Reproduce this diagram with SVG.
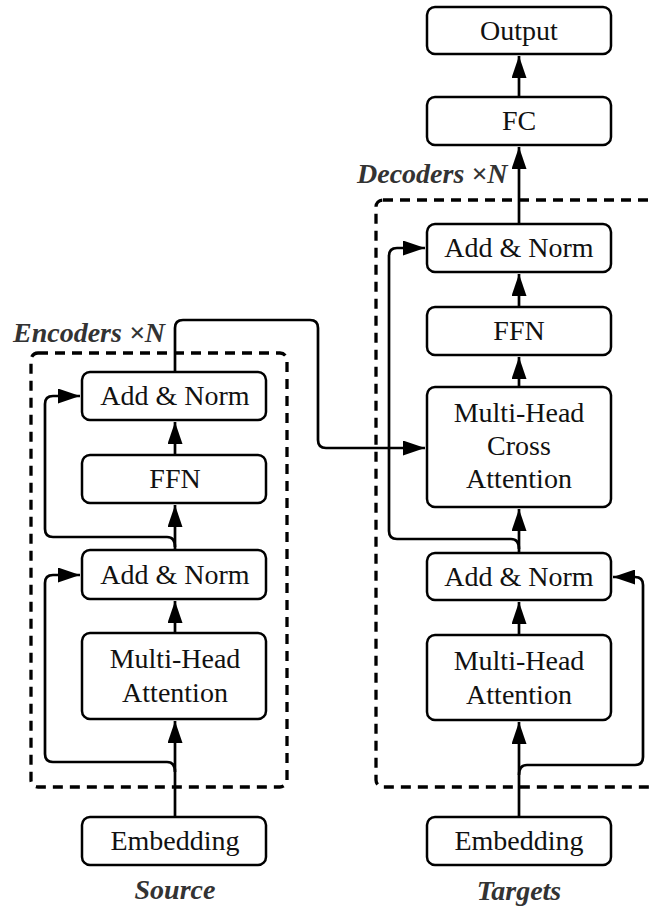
<svg xmlns="http://www.w3.org/2000/svg" width="651" height="907" viewBox="0 0 651 907">
  <style>
    .box { fill: #fff; stroke: #000; stroke-width: 2.5; }
    .lbl { font-family: "Liberation Serif", "Times New Roman", serif; font-size: 28px; fill: #111; text-anchor: middle; }
    .cap { font-family: "Liberation Serif", "Times New Roman", serif; font-size: 28px; font-weight: bold; font-style: italic; fill: #333; }
    .edge { fill: none; stroke: #000; stroke-width: 2.7; stroke-linejoin: round; }
    .frame { fill: none; stroke: #000; stroke-width: 3.3; stroke-dasharray: 10 7; }
  </style>
  <defs>
    <marker id="arrow" markerUnits="userSpaceOnUse" markerWidth="22" markerHeight="15" refX="22" refY="7.5" orient="auto">
      <path d="M0,0 L22,7.5 L0,15 z" fill="#000"/>
    </marker>
  </defs>
  <rect width="651" height="907" fill="#fff"/>

  <!-- stack frames -->
  <g id="encoder-frame">
    <rect class="frame" x="31" y="353" width="256" height="434" rx="7"/>
    <text class="cap" x="13" y="342">Encoders ×N</text>
  </g>
  <g id="decoder-frame">
    <rect class="frame" x="376" y="200" width="300" height="587" rx="7"/>
    <text class="cap" x="357" y="183">Decoders ×N</text>
  </g>

  <!-- connectors -->
  <g id="connectors">
    <!-- encoder main path -->
    <path class="edge" d="M175,817 L175,721" marker-end="url(#arrow)"/>
    <path class="edge" d="M175,633 L175,601" marker-end="url(#arrow)"/>
    <path class="edge" d="M175,550 L175,505" marker-end="url(#arrow)"/>
    <path class="edge" d="M175,455 L175,422" marker-end="url(#arrow)"/>
    <!-- encoder residuals -->
    <path class="edge" d="M175,772 Q175,762 167,762 L53,762 Q45,762 45,754 L45,583 Q45,575 53,575 L80,575" marker-end="url(#arrow)"/>
    <path class="edge" d="M175,547 Q175,537 167,537 L53,537 Q45,537 45,529 L45,404 Q45,396 53,396 L80,396" marker-end="url(#arrow)"/>
    <!-- encoder output to cross attention -->
    <path class="edge" d="M175,372 L175,328 Q175,320 183,320 L310,320 Q318,320 318,328 L318,440 Q318,448 326,448 L425,448" marker-end="url(#arrow)"/>
    <!-- decoder main path -->
    <path class="edge" d="M519,817 L519,722" marker-end="url(#arrow)"/>
    <path class="edge" d="M519,635 L519,602" marker-end="url(#arrow)"/>
    <path class="edge" d="M519,553 L519,509" marker-end="url(#arrow)"/>
    <path class="edge" d="M519,387 L519,357" marker-end="url(#arrow)"/>
    <path class="edge" d="M519,307 L519,274" marker-end="url(#arrow)"/>
    <path class="edge" d="M519,224 L519,147" marker-end="url(#arrow)"/>
    <path class="edge" d="M519,97 L519,56" marker-end="url(#arrow)"/>
    <!-- decoder residuals -->
    <path class="edge" d="M519,775 Q519,765 527,765 L635,765 Q643,765 643,757 L643,585 Q643,577 635,577 L613,577" marker-end="url(#arrow)"/>
    <path class="edge" d="M519,549 Q519,539 511,539 L397,539 Q389,539 389,531 L389,256 Q389,248 397,248 L425,248" marker-end="url(#arrow)"/>
  </g>

  <!-- encoder nodes -->
  <g id="enc-embedding">
    <rect class="box" x="82" y="817" width="184" height="48" rx="8"/>
    <text class="lbl" x="175" y="850">Embedding</text>
  </g>
  <g id="enc-mha">
    <rect class="box" x="82" y="633" width="184" height="86" rx="8"/>
    <text class="lbl" x="175" y="668">Multi-Head</text>
    <text class="lbl" x="175" y="702">Attention</text>
  </g>
  <g id="enc-addnorm1">
    <rect class="box" x="82" y="550" width="184" height="49" rx="8"/>
    <text class="lbl" x="175" y="584">Add &amp; Norm</text>
  </g>
  <g id="enc-ffn">
    <rect class="box" x="82" y="455" width="184" height="48" rx="8"/>
    <text class="lbl" x="175" y="488">FFN</text>
  </g>
  <g id="enc-addnorm2">
    <rect class="box" x="82" y="372" width="184" height="48" rx="8"/>
    <text class="lbl" x="175" y="405">Add &amp; Norm</text>
  </g>
  <g id="source">
    <text class="cap" x="175" y="899" text-anchor="middle">Source</text>
  </g>

  <!-- decoder nodes -->
  <g id="dec-embedding">
    <rect class="box" x="427" y="817" width="184" height="48" rx="8"/>
    <text class="lbl" x="519" y="850">Embedding</text>
  </g>
  <g id="dec-mha">
    <rect class="box" x="427" y="635" width="184" height="85" rx="8"/>
    <text class="lbl" x="519" y="670">Multi-Head</text>
    <text class="lbl" x="519" y="704">Attention</text>
  </g>
  <g id="dec-addnorm1">
    <rect class="box" x="427" y="553" width="184" height="47" rx="8"/>
    <text class="lbl" x="519" y="586">Add &amp; Norm</text>
  </g>
  <g id="dec-cross">
    <rect class="box" x="427" y="387" width="184" height="120" rx="8"/>
    <text class="lbl" x="519" y="422">Multi-Head</text>
    <text class="lbl" x="519" y="455">Cross</text>
    <text class="lbl" x="519" y="488">Attention</text>
  </g>
  <g id="dec-ffn">
    <rect class="box" x="427" y="307" width="184" height="48" rx="8"/>
    <text class="lbl" x="519" y="340">FFN</text>
  </g>
  <g id="dec-addnorm2">
    <rect class="box" x="427" y="224" width="184" height="48" rx="8"/>
    <text class="lbl" x="519" y="257">Add &amp; Norm</text>
  </g>
  <g id="fc">
    <rect class="box" x="427" y="97" width="184" height="48" rx="8"/>
    <text class="lbl" x="519" y="130">FC</text>
  </g>
  <g id="output">
    <rect class="box" x="427" y="7" width="184" height="47" rx="8"/>
    <text class="lbl" x="519" y="40">Output</text>
  </g>
  <g id="targets">
    <text class="cap" x="519" y="900" text-anchor="middle">Targets</text>
  </g>
</svg>
